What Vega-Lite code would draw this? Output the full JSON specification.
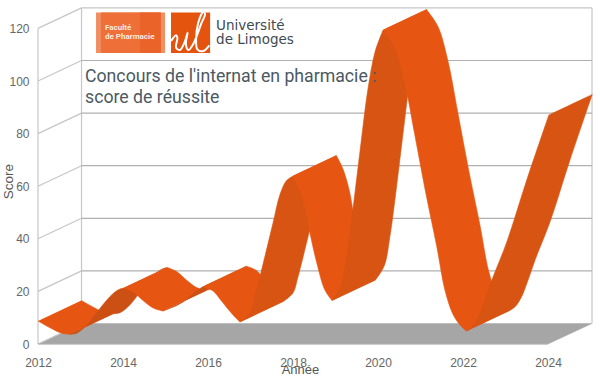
{"$schema":"https://vega.github.io/schema/vega-lite/v6.json","width":554,"height":337,"autosize":"none","padding":{"left":38,"top":7,"right":8,"bottom":34},"background":"white","config":{"view":{"stroke":null},"font":"Liberation Sans"},
"resolve":{"scale":{"color":"independent","fill":"independent","stroke":"independent"}},
"datasets":{
"floor":[{"a":2012,"v":0},{"a":2024,"v":0},{"a":2025.035,"v":7.8},{"a":2013.024,"v":7.8}],
"walls":[
{"g":"l0","k":"c","a":2012,"v":0},{"g":"l0","k":"c","a":2013.024,"v":7.8},
{"g":"l20","k":"c","a":2012,"v":20},{"g":"l20","k":"c","a":2013.024,"v":27.8},
{"g":"l40","k":"c","a":2012,"v":40},{"g":"l40","k":"c","a":2013.024,"v":47.8},
{"g":"l60","k":"c","a":2012,"v":60},{"g":"l60","k":"c","a":2013.024,"v":67.8},
{"g":"l80","k":"c","a":2012,"v":80},{"g":"l80","k":"c","a":2013.024,"v":87.8},
{"g":"l100","k":"c","a":2012,"v":100},{"g":"l100","k":"c","a":2013.024,"v":107.8},
{"g":"l120","k":"c","a":2012,"v":120},{"g":"l120","k":"c","a":2013.024,"v":127.8},
{"g":"vf","k":"c","a":2012,"v":0},{"g":"vf","k":"c","a":2012,"v":120},
{"g":"vb","k":"c","a":2013.024,"v":7.8},{"g":"vb","k":"c","a":2013.024,"v":127.8},
{"g":"vr","k":"c","a":2025.035,"v":7.8},{"g":"vr","k":"c","a":2025.035,"v":127.8},
{"g":"top","k":"c","a":2013.024,"v":127.8},{"g":"top","k":"c","a":2025.035,"v":127.8},
{"g":"h0","k":"m","a":2012,"v":0},{"g":"h0","k":"m","a":2024,"v":0},
{"g":"h20","k":"m","a":2013.024,"v":27.8},{"g":"h20","k":"m","a":2025.035,"v":27.8},
{"g":"h40","k":"m","a":2013.024,"v":47.8},{"g":"h40","k":"m","a":2025.035,"v":47.8},
{"g":"h60","k":"m","a":2013.024,"v":67.8},{"g":"h60","k":"m","a":2025.035,"v":67.8},
{"g":"h80","k":"m","a":2013.024,"v":87.8},{"g":"h80","k":"m","a":2025.035,"v":87.8},
{"g":"h100","k":"m","a":2013.024,"v":107.8},{"g":"h100","k":"m","a":2025.035,"v":107.8}
],
"logo":[
{"p":"a","a0":2013.365,"a1":2014.99,"v0":110.64,"v1":126.04},
{"p":"b","a0":2013.48,"a1":2014.89,"v0":110.64,"v1":126.04},
{"p":"c","a0":2014.4,"a1":2014.89,"v0":110.64,"v1":126.04},
{"p":"d","a0":2015.13,"a1":2016.05,"v0":110.64,"v1":126.04}
],
"sigle":[
{"a":2015.13,"v":115.2},{"a":2015.25,"v":117.37},{"a":2015.28,"v":116.46},{"a":2015.25,"v":112.65},{"a":2015.34,"v":111.78},{"a":2015.46,"v":115.2},{"a":2015.52,"v":118.36},{"a":2015.48,"v":113.95},{"a":2015.54,"v":111.78},{"a":2015.65,"v":113.95},{"a":2015.85,"v":122.16},{"a":2015.93,"v":125.35},{"a":2015.89,"v":126.23},{"a":2015.77,"v":122.16},{"a":2015.72,"v":115.85},{"a":2015.75,"v":112.04},{"a":2015.89,"v":111.4},{"a":2016.03,"v":113.57}
],
"ruban":[
{"b":1,"s":"d","a":2012,"v":8.75},{"b":1,"s":"d","a":2012.28,"v":6.20},{"b":1,"s":"d","a":2012.56,"v":4.07},{"b":1,"s":"d","a":2012.75,"v":3.69},{"b":1,"s":"d","a":2012.75,"v":3.69},{"b":1,"s":"d","a":2013.77,"v":11.49},{"b":1,"s":"d","a":2013.77,"v":11.49},{"b":1,"s":"d","a":2013.58,"v":11.87},{"b":1,"s":"d","a":2013.30,"v":14.0},{"b":1,"s":"d","a":2013.02,"v":16.55},
{"b":2,"s":"s","a":2012.75,"v":3.69},{"b":2,"s":"s","a":2012.92,"v":4.18},{"b":2,"s":"s","a":2013.15,"v":7.22},{"b":2,"s":"s","a":2013.41,"v":12.55},{"b":2,"s":"s","a":2013.69,"v":17.98},{"b":2,"s":"s","a":2013.88,"v":20.53},{"b":2,"s":"s","a":2014.02,"v":21.29},{"b":2,"s":"s","a":2014.02,"v":21.29},{"b":2,"s":"s","a":2015.04,"v":29.09},{"b":2,"s":"s","a":2015.04,"v":29.09},{"b":2,"s":"s","a":2014.90,"v":28.33},{"b":2,"s":"s","a":2014.71,"v":25.78},{"b":2,"s":"s","a":2014.43,"v":20.35},{"b":2,"s":"s","a":2014.17,"v":15.02},{"b":2,"s":"s","a":2013.94,"v":11.98},{"b":2,"s":"s","a":2013.77,"v":11.49},
{"b":3,"s":"d","a":2014.02,"v":21.29},{"b":3,"s":"d","a":2014.24,"v":19.77},{"b":3,"s":"d","a":2014.47,"v":16.54},{"b":3,"s":"d","a":2014.71,"v":13.69},{"b":3,"s":"d","a":2014.94,"v":12.55},{"b":3,"s":"d","a":2014.94,"v":12.55},{"b":3,"s":"d","a":2015.96,"v":20.35},{"b":3,"s":"d","a":2015.96,"v":20.35},{"b":3,"s":"d","a":2015.73,"v":21.49},{"b":3,"s":"d","a":2015.49,"v":24.34},{"b":3,"s":"d","a":2015.26,"v":27.57},{"b":3,"s":"d","a":2015.04,"v":29.09},
{"b":4,"s":"s","a":2014.94,"v":12.55},{"b":4,"s":"s","a":2015.29,"v":14.83},{"b":4,"s":"s","a":2015.51,"v":17.11},{"b":4,"s":"s","a":2015.69,"v":19.77},{"b":4,"s":"s","a":2015.88,"v":21.79},{"b":4,"s":"s","a":2015.88,"v":21.79},{"b":4,"s":"s","a":2016.90,"v":29.59},{"b":4,"s":"s","a":2016.90,"v":29.59},{"b":4,"s":"s","a":2016.71,"v":27.57},{"b":4,"s":"s","a":2016.53,"v":24.91},{"b":4,"s":"s","a":2016.31,"v":22.63},{"b":4,"s":"s","a":2015.96,"v":20.35},
{"b":5,"s":"d","a":2015.88,"v":21.79},{"b":5,"s":"d","a":2016.12,"v":20.15},{"b":5,"s":"d","a":2016.28,"v":17.11},{"b":5,"s":"d","a":2016.45,"v":13.69},{"b":5,"s":"d","a":2016.59,"v":11.03},{"b":5,"s":"d","a":2016.75,"v":8.36},{"b":5,"s":"d","a":2016.75,"v":8.36},{"b":5,"s":"d","a":2017.77,"v":16.16},{"b":5,"s":"d","a":2017.77,"v":16.16},{"b":5,"s":"d","a":2017.61,"v":18.83},{"b":5,"s":"d","a":2017.47,"v":21.49},{"b":5,"s":"d","a":2017.30,"v":24.91},{"b":5,"s":"d","a":2017.14,"v":27.95},{"b":5,"s":"d","a":2016.90,"v":29.59},
{"b":6,"s":"r","a":2016.75,"v":8.36},{"b":6,"s":"r","a":2016.98,"v":11.60},{"b":6,"s":"r","a":2017.09,"v":17.30},{"b":6,"s":"r","a":2017.22,"v":25.47},{"b":6,"s":"r","a":2017.53,"v":46.0},{"b":6,"s":"r","a":2017.69,"v":56.65},{"b":6,"s":"r","a":2017.84,"v":61.97},{"b":6,"s":"r","a":2018.0,"v":63.87},{"b":6,"s":"r","a":2018.0,"v":63.87},{"b":6,"s":"r","a":2019.02,"v":71.67},{"b":6,"s":"r","a":2019.02,"v":71.67},{"b":6,"s":"r","a":2018.86,"v":69.77},{"b":6,"s":"r","a":2018.71,"v":64.45},{"b":6,"s":"r","a":2018.55,"v":53.80},{"b":6,"s":"r","a":2018.24,"v":33.27},{"b":6,"s":"r","a":2018.11,"v":25.10},{"b":6,"s":"r","a":2018.00,"v":19.40},{"b":6,"s":"r","a":2017.77,"v":16.16},
{"b":7,"s":"d","a":2018.0,"v":63.87},{"b":7,"s":"d","a":2018.16,"v":58.55},{"b":7,"s":"d","a":2018.31,"v":50.19},{"b":7,"s":"d","a":2018.40,"v":42.20},{"b":7,"s":"d","a":2018.56,"v":30.80},{"b":7,"s":"d","a":2018.75,"v":20.53},{"b":7,"s":"d","a":2018.92,"v":16.54},{"b":7,"s":"d","a":2018.92,"v":16.54},{"b":7,"s":"d","a":2019.94,"v":24.34},{"b":7,"s":"d","a":2019.94,"v":24.34},{"b":7,"s":"d","a":2019.77,"v":28.33},{"b":7,"s":"d","a":2019.58,"v":38.60},{"b":7,"s":"d","a":2019.42,"v":50.0},{"b":7,"s":"d","a":2019.33,"v":57.99},{"b":7,"s":"d","a":2019.18,"v":66.35},{"b":7,"s":"d","a":2019.02,"v":71.67},
{"b":8,"s":"r","a":2018.92,"v":16.54},{"b":8,"s":"r","a":2019.13,"v":22.05},{"b":8,"s":"r","a":2019.26,"v":33.08},{"b":8,"s":"r","a":2019.34,"v":42.20},{"b":8,"s":"r","a":2019.46,"v":57.79},{"b":8,"s":"r","a":2019.60,"v":76.42},{"b":8,"s":"r","a":2019.76,"v":96.57},{"b":8,"s":"r","a":2019.93,"v":111.02},{"b":8,"s":"r","a":2020.12,"v":119.38},{"b":8,"s":"r","a":2020.12,"v":119.38},{"b":8,"s":"r","a":2021.14,"v":127.18},{"b":8,"s":"r","a":2021.14,"v":127.18},{"b":8,"s":"r","a":2020.95,"v":118.82},{"b":8,"s":"r","a":2020.78,"v":104.37},{"b":8,"s":"r","a":2020.62,"v":84.22},{"b":8,"s":"r","a":2020.48,"v":65.59},{"b":8,"s":"r","a":2020.36,"v":50.0},{"b":8,"s":"r","a":2020.28,"v":40.88},{"b":8,"s":"r","a":2020.15,"v":29.85},{"b":8,"s":"r","a":2019.94,"v":24.34},
{"b":9,"s":"d","a":2020.12,"v":119.38},{"b":9,"s":"d","a":2020.39,"v":112.92},{"b":9,"s":"d","a":2020.62,"v":100.18},{"b":9,"s":"d","a":2020.86,"v":80.03},{"b":9,"s":"d","a":2021.11,"v":58.55},{"b":9,"s":"d","a":2021.38,"v":37.26},{"b":9,"s":"d","a":2021.58,"v":20.15},{"b":9,"s":"d","a":2021.76,"v":11.41},{"b":9,"s":"d","a":2021.93,"v":7.22},{"b":9,"s":"d","a":2022.08,"v":4.94},{"b":9,"s":"d","a":2022.08,"v":4.94},{"b":9,"s":"d","a":2023.10,"v":12.74},{"b":9,"s":"d","a":2023.10,"v":12.74},{"b":9,"s":"d","a":2022.95,"v":15.02},{"b":9,"s":"d","a":2022.78,"v":19.21},{"b":9,"s":"d","a":2022.60,"v":27.95},{"b":9,"s":"d","a":2022.40,"v":45.06},{"b":9,"s":"d","a":2022.13,"v":66.35},{"b":9,"s":"d","a":2021.88,"v":87.83},{"b":9,"s":"d","a":2021.64,"v":107.98},{"b":9,"s":"d","a":2021.41,"v":120.72},{"b":9,"s":"d","a":2021.14,"v":127.18},
{"b":10,"s":"r","a":2022.08,"v":4.94},{"b":10,"s":"r","a":2022.21,"v":6.46},{"b":10,"s":"r","a":2022.35,"v":9.89},{"b":10,"s":"r","a":2022.49,"v":15.59},{"b":10,"s":"r","a":2022.68,"v":24.33},{"b":10,"s":"r","a":2023.03,"v":38.78},{"b":10,"s":"r","a":2023.50,"v":62.35},{"b":10,"s":"r","a":2024.02,"v":87.07},{"b":10,"s":"r","a":2024.02,"v":87.07},{"b":10,"s":"r","a":2025.04,"v":94.87},{"b":10,"s":"r","a":2025.04,"v":94.87},{"b":10,"s":"r","a":2024.52,"v":70.15},{"b":10,"s":"r","a":2024.05,"v":46.58},{"b":10,"s":"r","a":2023.70,"v":32.13},{"b":10,"s":"r","a":2023.51,"v":23.39},{"b":10,"s":"r","a":2023.37,"v":17.69},{"b":10,"s":"r","a":2023.23,"v":14.26},{"b":10,"s":"r","a":2023.10,"v":12.74}
]},
"encoding":{
"x":{"field":"a","type":"quantitative","scale":{"domain":[2012,2025.035],"nice":false,"zero":false},"axis":{"values":[2012,2014,2016,2018,2020,2022,2024],"format":"d","title":"Année","titleX":262,"titlePadding":-5,"titleFontWeight":"normal","titleFontSize":13,"titleColor":"#555555","labelFontSize":12,"labelColor":"#666666","labelPadding":13,"labelFlush":false,"ticks":false,"domain":false,"grid":false}},
"y":{"field":"v","type":"quantitative","scale":{"domain":[0,128.14],"nice":false},"axis":{"values":[0,20,40,60,80,100,120],"title":"Score","titleX":-23,"titleY":174,"titleFontWeight":"normal","titleFontSize":13.5,"titleColor":"#555555","labelFontSize":12,"labelColor":"#666666","labelPadding":9,"ticks":false,"domain":false,"grid":false}}
},
"layer":[
{"data":{"name":"floor"},"mark":{"type":"line","filled":true,"fill":"#a6a6a6","stroke":"#a6a6a6","strokeWidth":0.5},"encoding":{"order":{"value":null}}},
{"data":{"name":"walls"},"mark":{"type":"line","strokeWidth":1.2},"encoding":{"detail":{"field":"g"},"order":{"value":null},"color":{"field":"k","type":"nominal","legend":null,"scale":{"domain":["c","m"],"range":["#c6c6c6","#b0b0b0"]}}}},
{"data":{"name":"ruban"},"mark":{"type":"line","filled":true,"interpolate":"catmull-rom","strokeWidth":0.6},"encoding":{"detail":{"field":"b"},"order":{"value":null},"fill":{"field":"s","type":"nominal","legend":null,"scale":{"domain":["d","r","s"],"range":["#e65612","#d85412","#cc5014"]}},"stroke":{"field":"s","type":"nominal","legend":null,"scale":{"domain":["d","r","s"],"range":["#e65612","#d85412","#cc5014"]}}}},
{"data":{"name":"logo"},"mark":{"type":"rect"},"encoding":{"x":{"field":"a0","type":"quantitative"},"x2":{"field":"a1"},"y":{"field":"v0","type":"quantitative"},"y2":{"field":"v1"},"color":{"field":"p","type":"nominal","legend":null,"scale":{"domain":["a","b","c","d"],"range":["#f08f63","#ee6f37","#ea642a","#e5540f"]}}}},
{"data":{"name":"sigle"},"mark":{"type":"line","interpolate":"catmull-rom","strokeWidth":2,"color":"white"},"encoding":{"order":{"value":null}}},
{"data":{"values":[{"t":"Concours de l'internat en pharmacie :","a":2013.106,"v":99.8},{"t":"score de réussite","a":2013.106,"v":91.63}]},"mark":{"type":"text","font":"Roboto","fontSize":17.7,"align":"left","baseline":"alphabetic","color":"#4b5962"},"encoding":{"text":{"field":"t"}}},
{"data":{"values":[{"t":"Université","a":2016.19,"v":119.38},{"t":"de Limoges","a":2016.19,"v":114.06}]},"mark":{"type":"text","font":"DejaVu Sans","fontSize":13.5,"align":"left","baseline":"alphabetic","color":"#3f4a52"},"encoding":{"text":{"field":"t"}}},
{"data":{"values":[{"t":"Faculté","a":2013.576,"v":119.4},{"t":"de Pharmacie","a":2013.576,"v":115.85}]},"mark":{"type":"text","font":"Roboto","fontSize":8,"fontWeight":"bold","align":"left","baseline":"alphabetic","color":"#fbe9df"},"encoding":{"text":{"field":"t"}}}
]}
